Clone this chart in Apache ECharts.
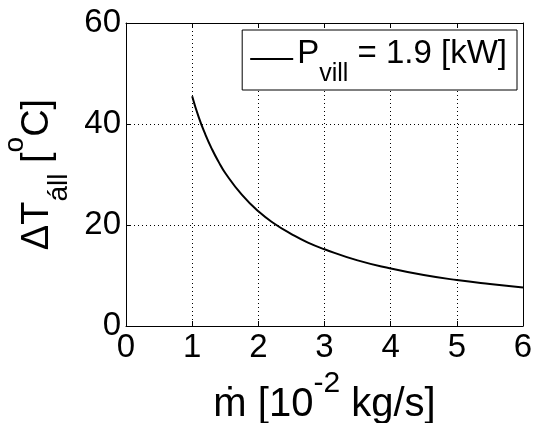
<!DOCTYPE html>
<html>
<head>
<meta charset="utf-8">
<script src="https://cdn.jsdelivr.net/npm/echarts@6/dist/echarts.min.js"></script>
<style>
  html, body { margin: 0; padding: 0; background: #fff; }
  #main { width: 538px; height: 423px; }
</style>
</head>
<body>
<div id="main"></div>
<script>
// mass flow [10^-2 kg/s] and temperature rise [°C]
var massFlow = [1.0, 1.1, 1.2, 1.3, 1.4, 1.5, 1.75, 2.0, 2.25, 2.5, 2.75, 3.0, 3.5, 4.0, 4.5, 5.0, 5.5, 6.0];
var deltaT = [45.5, 41.3, 37.9, 35.0, 32.5, 30.3, 26.0, 22.7, 20.2, 18.2, 16.5, 15.2, 13.0, 11.4, 10.1, 9.1, 8.3, 7.6];
var seriesName = 'P_vill = 1.9 [kW]';

var chart = echarts.init(document.getElementById('main'));
var font = 'Liberation Sans, Arial, Helvetica, sans-serif';
var points = massFlow.map(function (m, i) { return [m, deltaT[i]]; });

var axisBase = {
    type: 'value',
    axisLine: { show: true, onZero: false, lineStyle: { color: '#000', width: 1 } },
    axisTick: { show: true, inside: true, length: 5, lineStyle: { color: '#000' } },
    splitLine: { show: false }
};

var option = {
    animation: false,
    backgroundColor: '#fff',
    grid: { left: 126, right: 15, top: 23, bottom: 97, containLabel: false, outerBoundsMode: 'none' },
    legend: {
        show: true,
        right: 21,
        top: 30,
        orient: 'vertical',
        padding: [7, 10, 3, 8],
        borderColor: '#000',
        borderWidth: 1,
        backgroundColor: '#fff',
        itemWidth: 43,
        itemHeight: 2,
        itemGap: 0,
        icon: 'rect',
        data: [seriesName],
        formatter: function () {
            return '{a|P}{s|vill}{a| = 1.9 [kW]}';
        },
        textStyle: {
            fontFamily: font,
            color: '#000',
            padding: [0, 0, 0, -1],
            rich: {
                a: { fontSize: 33, fontFamily: font, color: '#000', lineHeight: 44, verticalAlign: 'top' },
                s: { fontSize: 25, fontFamily: font, color: '#000', lineHeight: 44, verticalAlign: 'bottom', padding: [0, 0, -6, 0] }
            }
        }
    },
    xAxis: [
        Object.assign({}, axisBase, {
            min: 0, max: 6, interval: 1,
            position: 'bottom',
            splitLine: { show: true, lineStyle: { color: '#000', type: [1, 3], width: 1 } },
            axisLabel: { color: '#000', fontSize: 33, fontFamily: font, margin: 5 },
            name: '{a|ṁ [10}{p|-2}{a| kg/s]}',
            nameLocation: 'middle',
            nameGap: 33,
            nameTextStyle: {
                rich: {
                    a: { fontSize: 40, fontFamily: font, color: '#000', lineHeight: 56, verticalAlign: 'bottom' },
                    p: { fontSize: 30, fontFamily: font, color: '#000', lineHeight: 18, verticalAlign: 'top' }
                }
            }
        }),
        Object.assign({}, axisBase, {
            min: 0, max: 6, interval: 1,
            position: 'top',
            axisLabel: { show: false }
        })
    ],
    yAxis: [
        Object.assign({}, axisBase, {
            min: 0, max: 60, interval: 20,
            position: 'left',
            splitLine: { show: true, lineStyle: { color: '#000', type: [1, 3], width: 1 } },
            axisLabel: { color: '#000', fontSize: 33, fontFamily: font, margin: 5 },
            name: '{a|ΔT}{s|áll}{a| [}{p|o}{a|C]}',
            nameLocation: 'middle',
            nameGap: 52,
            nameRotate: 90,
            nameTextStyle: {
                rich: {
                    a: { fontSize: 38, fontFamily: font, color: '#000', lineHeight: 48, verticalAlign: 'middle' },
                    s: { fontSize: 28, fontFamily: font, color: '#000', lineHeight: 72, verticalAlign: 'bottom' },
                    p: { fontSize: 28, fontFamily: font, color: '#000', lineHeight: 16, verticalAlign: 'top' }
                }
            }
        }),
        Object.assign({}, axisBase, {
            min: 0, max: 60, interval: 20,
            position: 'right',
            axisLabel: { show: false }
        })
    ],
    series: [
        {
            name: seriesName,
            type: 'line',
            data: points,
            smooth: true,
            showSymbol: false,
            lineStyle: { color: '#000', width: 2 },
            itemStyle: { color: '#000' }
        }
    ]
};

option && chart.setOption(option);
</script>
</body>
</html>
